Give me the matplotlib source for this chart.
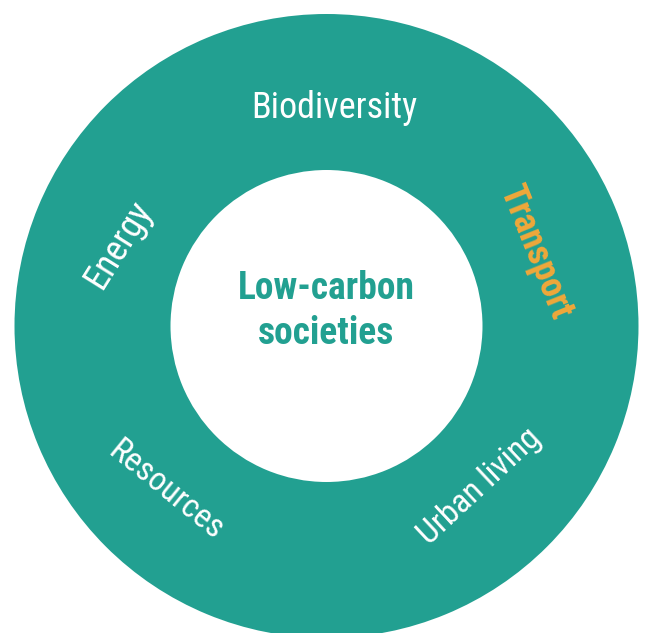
"""
plot.py
Ring diagram: themes around low-carbon societies
"""
import matplotlib
matplotlib.use('Agg')
import matplotlib.pyplot as plt
from matplotlib.patches import Wedge
from matplotlib import font_manager

TEAL = '#22a091'
ORANGE = '#f0a83a'

centre_label = 'Low-carbon\nsocieties'
themes = ['Biodiversity', 'Transport', 'Urban living', 'Resources', 'Energy']
theme_colors = ['white', ORANGE, 'white', 'white', 'white']
theme_weights = ['normal', 'bold', 'normal', 'normal', 'normal']

# layout (pixels, y down)
cx, cy = 326.5, 326.0
r_out, r_in = 312.0, 156.0
label_xy = [(334, 108), (535, 252), (480, 487), (166, 491), (118, 245)]
label_rot = [0, -68, 43, -39, 58]
label_size = [26, 26, 24, 24, 26]

names = {f.name for f in font_manager.fontManager.ttflist}
font = 'Roboto Condensed' if 'Roboto Condensed' in names else (
    'Liberation Sans Narrow' if 'Liberation Sans Narrow' in names else 'Roboto')

fig = plt.figure(figsize=(6.45, 6.33), dpi=100)
ax = fig.add_axes([0, 0, 1, 1])
ax.set_xlim(0, 645)
ax.set_ylim(633, 0)
ax.set_aspect('equal')
ax.axis('off')

ax.add_patch(Wedge((cx, cy), r_out, 0, 360, width=r_out - r_in,
                   facecolor=TEAL, edgecolor='none'))

for name, col, w, (x, y), rot, sz in zip(themes, theme_colors, theme_weights,
                                         label_xy, label_rot, label_size):
    ax.text(x, y, name, color=col, fontsize=sz, fontweight=w, rotation=rot,
            rotation_mode='anchor', ha='center', va='center', family=font)

ax.text(cx, 311, centre_label, color=TEAL, fontsize=27, fontweight='bold',
        ha='center', va='center', linespacing=1.3, family=font)

fig.savefig('out.png', dpi=100)
